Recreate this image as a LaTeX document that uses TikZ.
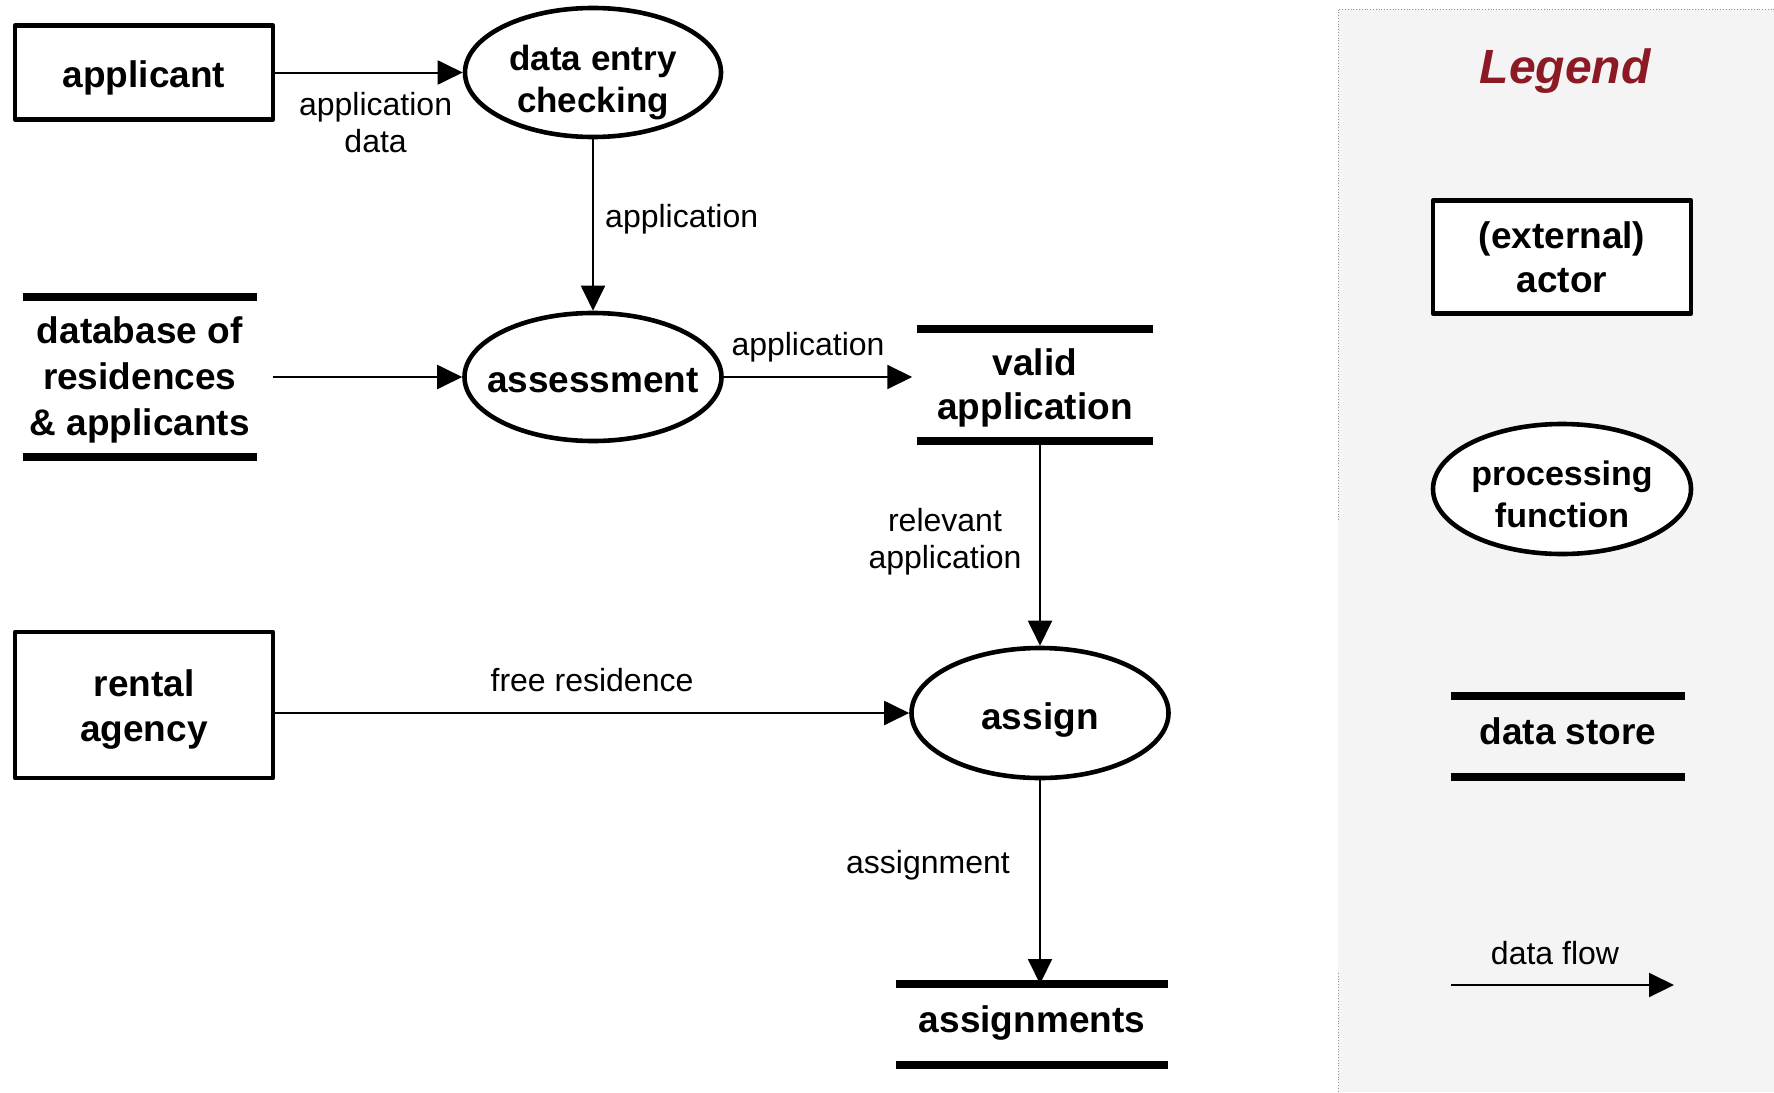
\documentclass[tikz,border=0pt]{standalone}
\usepackage{fontspec}
\setmainfont{Liberation Sans}
\usetikzlibrary{shapes.geometric,arrows.meta}
\definecolor{legendbg}{RGB}{244,244,244}
\definecolor{legendred}{RGB}{139,26,36}
\definecolor{panelrule}{RGB}{150,150,150}

\begin{document}
\begin{tikzpicture}[x=1pt,y=-1pt,
  txt/.style={inner sep=0pt, align=center, font=\bfseries\fontsize{37}{44}\selectfont},
  actor/.style={draw, line width=4.6pt, line join=round, rectangle, inner sep=0pt},
  proc/.style={draw, line width=4.6pt, ellipse, inner sep=0pt},
  store/.style={rectangle, inner sep=0pt, outer sep=0pt},
  storeline/.style={line width=7.5pt},
  flow/.style={line width=2pt, -{Triangle[length=25pt,width=24pt]}},
  lbl/.style={inner sep=0pt, align=center, font=\fontsize{32}{37}\selectfont}
]
\useasboundingbox (0,0) rectangle (1774,1092);

% legend panel
\fill[legendbg] (1338,9) rectangle (1774,1092);
\draw[panelrule, line width=0.8pt, dotted] (1338,520) -- (1338,9) -- (1774,9);
\draw[panelrule, line width=0.8pt, dotted] (1338,973) -- (1338,1092);

% external actors
\node[actor, minimum width=258pt, minimum height=94pt,
      label={[txt, yshift=-5.7pt]center:applicant}] (app) at (144,72.5) {};
\node[actor, minimum width=258pt, minimum height=146pt,
      label={[txt, yshift=-5pt, font=\bfseries\fontsize{37}{45}\selectfont]center:{rental\\agency}}] (rent) at (144,705) {};

% processing functions
\node[proc, minimum width=256pt, minimum height=129pt,
      label={[txt, yshift=-9.6pt, font=\bfseries\fontsize{35}{42}\selectfont]center:{data entry\\checking}}] (dec) at (593,72.5) {};
\node[proc, minimum width=257pt, minimum height=128pt,
      label={[txt, yshift=-3.4pt]center:assessment}] (assess) at (593,377) {};
\node[proc, minimum width=257pt, minimum height=130pt,
      label={[txt, yshift=-7pt]center:assign}] (assign) at (1040,713) {};

% data stores
\node[store, minimum width=234pt, minimum height=160pt,
      label={[txt, yshift=-3pt, font=\bfseries\fontsize{37}{46}\selectfont]center:{database of\\residences\\\& applicants}}] (db) at (139.7,377) {};
\node[store, minimum width=235.5pt, minimum height=112pt,
      label={[txt, yshift=-3.4pt]center:{valid\\application}}] (valid) at (1035,385) {};
\node[store, minimum width=272pt, minimum height=81pt,
      label={[txt, yshift=1pt]center:assignments}] (asg) at (1032,1024.5) {};

\foreach \s in {db,valid,asg}{
  \draw[storeline] (\s.north west) -- (\s.north east);
  \draw[storeline] (\s.south west) -- (\s.south east);
}

% data flows
\draw[flow] (app) -- (dec);
\draw[flow] (dec) -- (assess);
\draw[flow] ([xshift=16pt]db.east) -- (assess);
\draw[flow, shorten >=5pt] (assess.east) -- (assess.east -| valid.west);
\draw[flow] (valid.south -| assign.north) -- (assign.north);
\draw[flow] (rent.east |- assign.west) -- (assign.west);
\draw[flow] (assign.south) -- (assign.south |- asg.north);

% flow labels
\node[lbl] (l1) at (375.6,122.5) {application\\data};
\node[lbl, anchor=west] (l2) at (605,219.4) {application};
\node[lbl] (l3) at (808,347.4) {application};
\node[lbl] (l4) at (945,542) {relevant\\application};
\node[lbl] (l5) at (592,680) {free residence};
\node[lbl] (l6) at (928,865.4) {assignment};

% legend
\node[inner sep=0pt, anchor=base, text=legendred,
      font=\bfseries\itshape\fontsize{48}{50}\selectfont] (legtitle) at (1565,83) {Legend};
\node[actor, fill=white, minimum width=258pt, minimum height=113pt,
      label={[txt]center:{(external)\\actor}}] (legactor) at (1562,257) {};
\node[proc, fill=white, minimum width=258pt, minimum height=130pt,
      label={[txt, yshift=-5.7pt, font=\bfseries\fontsize{34}{42}\selectfont]center:{processing\\function}}] (legproc) at (1562,489) {};
\node[store, minimum width=234pt, minimum height=81pt,
      label={[txt, yshift=5.7pt]center:data store}] (legstore) at (1568,736.5) {};
\draw[storeline] (legstore.north west) -- (legstore.north east);
\draw[storeline] (legstore.south west) -- (legstore.south east);
\coordinate (dfs) at (1451,985);
\coordinate (dfe) at (1674,985);
\draw[flow] (dfs) -- (dfe);
\node[lbl] (legflow) at (1555,953) {data flow};
\end{tikzpicture}
\end{document}
